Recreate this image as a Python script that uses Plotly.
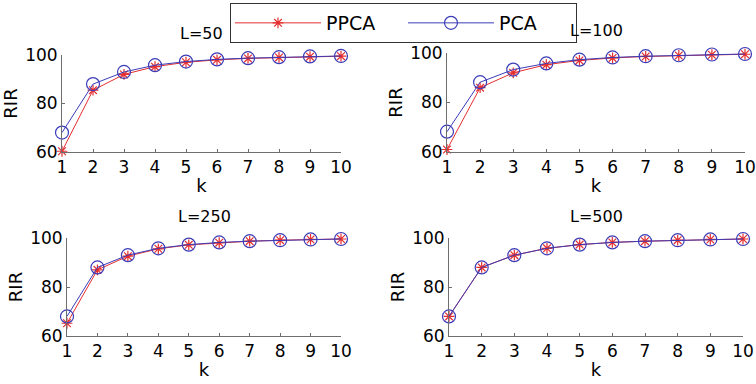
import plotly.graph_objects as go

k = list(range(1, 11))
titles = ["L=50", "L=100", "L=250", "L=500"]
ppca_L50 = [60.3, 85.5, 92.0, 95.2, 97.0, 98.0, 98.6, 99.0, 99.3, 99.5]
pca_L50 = [68.0, 88.0, 93.0, 95.8, 97.3, 98.2, 98.7, 99.1, 99.4, 99.6]
ppca_L100 = [61.0, 86.0, 92.0, 95.3, 97.0, 98.0, 98.6, 99.0, 99.3, 99.5]
pca_L100 = [68.2, 88.2, 93.3, 95.8, 97.3, 98.2, 98.7, 99.1, 99.4, 99.6]
ppca_L250 = [65.2, 87.0, 92.6, 95.6, 97.2, 98.1, 98.7, 99.1, 99.4, 99.6]
pca_L250 = [68.0, 88.0, 93.0, 95.8, 97.3, 98.2, 98.7, 99.1, 99.4, 99.6]
ppca_L500 = [68.0, 88.0, 93.0, 95.8, 97.3, 98.2, 98.7, 99.1, 99.4, 99.6]
pca_L500 = [68.0, 88.0, 93.0, 95.8, 97.3, 98.2, 98.7, 99.1, 99.4, 99.6]

ppca = [ppca_L50, ppca_L100, ppca_L250, ppca_L500]
pca = [pca_L50, pca_L100, pca_L250, pca_L500]

W, H = 756, 384
# panel boxes in pixels: (left, right, top, bottom)
boxes = [(62, 341, 55, 152), (447, 745, 53, 152), (67, 341, 238, 336), (449, 743, 238, 336)]

RED = "#e62e2e"
BLUE = "#3c3cb8"
AX = "#6e6e6e"
FONT = "DejaVu Sans"

fig = go.Figure()
for i in range(4):
    xa = "x" if i == 0 else f"x{i+1}"
    ya = "y" if i == 0 else f"y{i+1}"
    fig.add_trace(go.Scatter(
        x=k, y=ppca[i], xaxis=xa, yaxis=ya, name="PPCA", mode="lines+markers",
        line=dict(color=RED, width=1),
        marker=dict(symbol="asterisk-open", size=9, color=RED, line=dict(color=RED, width=1.2)),
        showlegend=(i == 0), legendgroup="ppca", cliponaxis=False))
    fig.add_trace(go.Scatter(
        x=k, y=pca[i], xaxis=xa, yaxis=ya, name="PCA", mode="lines+markers",
        line=dict(color=BLUE, width=1),
        marker=dict(symbol="circle-open", size=13, color=BLUE, line=dict(color=BLUE, width=1.2)),
        showlegend=(i == 0), legendgroup="pca", cliponaxis=False))

layout = dict(
    width=W, height=H, margin=dict(l=0, r=0, t=0, b=0, autoexpand=False),
    paper_bgcolor="white", plot_bgcolor="white",
    font=dict(family=FONT, color="black"),
    showlegend=True,
    legend=dict(orientation="h", x=230 / W, y=1 - 3 / H, xanchor="left", yanchor="top",
                bordercolor="#333333", borderwidth=1, bgcolor="white",
                font=dict(size=19, family=FONT), entrywidth=72, entrywidthmode="pixels",
                itemwidth=86, tracegroupgap=0),
    annotations=[],
)
for i, (l, r, t, b) in enumerate(boxes):
    sx = "" if i == 0 else str(i + 1)
    xdom = [l / W, r / W]
    ydom = [1 - b / H, 1 - t / H]
    layout["xaxis" + sx] = dict(
        domain=xdom, anchor="y" + sx, range=[1, 10], tickvals=k, showgrid=False, zeroline=False,
        showline=True, linecolor=AX, linewidth=1, ticks="inside", ticklen=3, tickcolor=AX,
        automargin=False,
        tickfont=dict(size=17, family=FONT, color="black"),
        title=dict(text="k", font=dict(size=18, family=FONT), standoff=2))
    layout["yaxis" + sx] = dict(
        domain=ydom, anchor="x" + sx, range=[60, 100], tickvals=[60, 80, 100], showgrid=False,
        zeroline=False, showline=True, linecolor=AX, linewidth=1, ticks="inside", ticklen=3,
        automargin=False,
        tickcolor=AX, tickfont=dict(size=17, family=FONT, color="black"),
        title=dict(text="RIR", font=dict(size=18, family=FONT), standoff=2))
    layout["annotations"].append(dict(
        text=titles[i], x=(l + r) / 2 / W, y=1 - (t - 22) / H, xref="paper", yref="paper",
        xanchor="center", yanchor="middle", showarrow=False, font=dict(size=16, family=FONT)))

fig.update_layout(**layout)
fig.write_html("out.html")
